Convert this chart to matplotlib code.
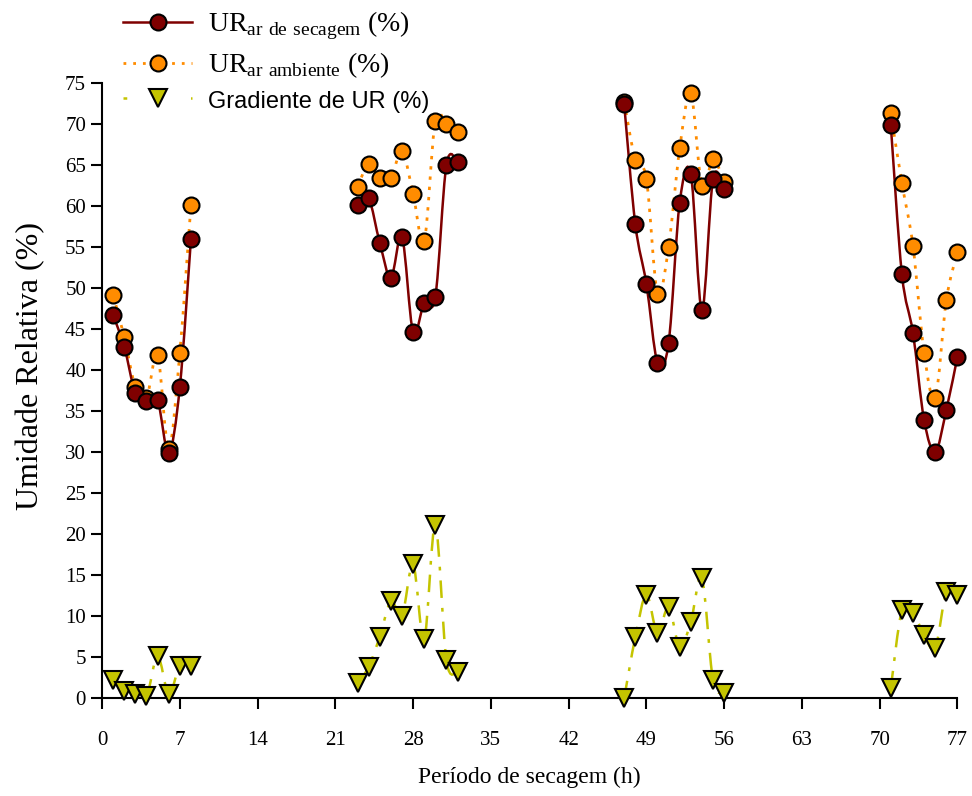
import numpy as np
import matplotlib
matplotlib.use("Agg")
import matplotlib.pyplot as plt
from matplotlib.path import Path
from matplotlib.patches import PathPatch
from matplotlib.lines import Line2D

# hours of drying (four separate days)
hours = [1, 2, 3, 4, 5, 6, 7, 8,
         23, 24, 25, 26, 27, 28, 29, 30, 31, 32,
         47, 48, 49, 50, 51, 52, 53, 54, 55, 56,
         71, 72, 73, 74, 75, 76, 77]

ur_secagem = [46.7, 42.8, 37.2, 36.2, 36.3, 29.9, 37.9, 55.9,
              60.1, 60.9, 55.5, 51.2, 56.2, 44.6, 48.2, 48.9, 65.0, 65.4,
              72.4, 57.8, 50.5, 40.9, 43.3, 60.4, 63.9, 47.3, 63.3, 62.1,
              69.9, 51.7, 44.5, 33.9, 30.0, 35.1, 41.6]

ur_ambiente = [49.1, 44.0, 37.9, 36.6, 41.8, 30.4, 42.1, 60.1,
               62.3, 65.1, 63.4, 63.4, 66.7, 61.5, 55.7, 70.4, 70.0, 69.0,
               72.7, 65.6, 63.3, 49.3, 55.0, 67.0, 73.7, 62.4, 65.7, 62.9,
               71.3, 62.8, 55.1, 42.1, 36.6, 48.5, 54.4]

gradiente = [2.2, 0.9, 0.5, 0.2, 5.1, 0.5, 3.9, 3.9,
             1.8, 3.8, 7.5, 11.8, 10.0, 16.3, 7.2, 21.1, 4.6, 3.2,
             0.0, 7.4, 12.6, 7.9, 11.1, 6.2, 9.3, 14.6, 2.2, 0.6,
             1.2, 10.7, 10.4, 7.7, 6.1, 12.9, 12.6]

plt.rcParams['font.family'] = ['Liberation Serif', 'DejaVu Serif']
plt.rcParams['mathtext.fontset'] = 'custom'
plt.rcParams['mathtext.rm'] = 'Liberation Serif'


def smooth_curve(ax, xs, ys, **kw):
    """Excel-like smoothed line: cubic Bezier through the points, per day."""
    xs = np.asarray(xs, float)
    ys = np.asarray(ys, float)
    breaks = np.where(np.diff(xs) > 1)[0] + 1
    for sx, sy in zip(np.split(xs, breaks), np.split(ys, breaks)):
        pts = np.column_stack([sx, sy])
        verts = [pts[0]]
        codes = [Path.MOVETO]
        n = len(pts)
        for i in range(n - 1):
            p0 = pts[max(i - 1, 0)]
            p1 = pts[i]
            p2 = pts[i + 1]
            p3 = pts[min(i + 2, n - 1)]
            c1 = p1 + (p2 - p0) / 6.0
            c2 = p2 - (p3 - p1) / 6.0
            verts += [c1, c2, p2]
            codes += [Path.CURVE4] * 3
        ax.add_patch(PathPatch(Path(verts, codes), fill=False, **kw))


fig = plt.figure(figsize=(9.72, 7.96), dpi=100)
ax = fig.add_axes([0.105, 0.123, 0.880, 0.773])

red = '#7f0000'
orange = '#ff8c00'
olive = '#c4c400'

smooth_curve(ax, hours, ur_ambiente, edgecolor=orange, lw=2.0, linestyle=(0, (1.2, 2.5)), zorder=2)
smooth_curve(ax, hours, gradiente, edgecolor=olive, lw=1.8, linestyle=(0, (7, 4, 1.5, 4)), zorder=2)
smooth_curve(ax, hours, ur_secagem, edgecolor=red, lw=1.8, zorder=2)

ax.plot(hours, ur_secagem, 'o', ms=11.5, mfc=red, mec='black', mew=1.5, zorder=4, clip_on=False)
ax.plot(hours, ur_ambiente, 'o', ms=11.5, mfc=orange, mec='black', mew=1.5, zorder=3, clip_on=False)
ax.plot(hours, gradiente, 'v', ms=12.5, mfc=olive, mec='black', mew=1.5, zorder=3, clip_on=False)

ax.set_xlim(0, 77)
ax.set_ylim(0, 75)
ax.set_xticks(np.arange(0, 78, 7))
ax.set_yticks(np.arange(0, 76, 5))
for s in ['top', 'right']:
    ax.spines[s].set_visible(False)
for s in ['left', 'bottom']:
    ax.spines[s].set_linewidth(1.5)
ax.tick_params(direction='out', length=8, width=1.5, labelsize=15)
ax.tick_params(axis='x', pad=16)

ax.set_ylabel('Umidade Relativa (%)', fontsize=23)
ax.yaxis.set_label_coords(-0.066, 0.54)
ax.set_xlabel('Período de secagem (h)', fontsize=17, labelpad=12)

handles = [
    Line2D([], [], color=red, lw=1.8, marker='o', ms=11.5, mfc=red, mec='black', mew=1.5),
    Line2D([], [], color=orange, lw=2.0, linestyle=(0, (1, 2.5)), marker='o', ms=11.5,
           mfc=orange, mec='black', mew=1.5),
    Line2D([], [], color=olive, lw=1.8, linestyle=(0, (1.5, 12)), marker='v', ms=12.5,
           mfc=olive, mec='black', mew=1.5),
]
labels = [r'UR$_{\mathrm{ar\ de\ secagem}}$ (%)',
          r'UR$_{\mathrm{ar\ ambiente}}$ (%)',
          'Gradiente de UR (%)']
leg = fig.legend(handles, labels, loc='upper left', bbox_to_anchor=(123 / 972, 0.988),
                 frameon=False, fontsize=20, handlelength=2.5, handletextpad=0.55,
                 labelspacing=0.3, borderpad=0, borderaxespad=0)
leg.get_texts()[2].set_family(['Liberation Sans', 'DejaVu Sans'])
leg.get_texts()[2].set_fontsize(17)

fig.savefig('out.png', dpi=100)
